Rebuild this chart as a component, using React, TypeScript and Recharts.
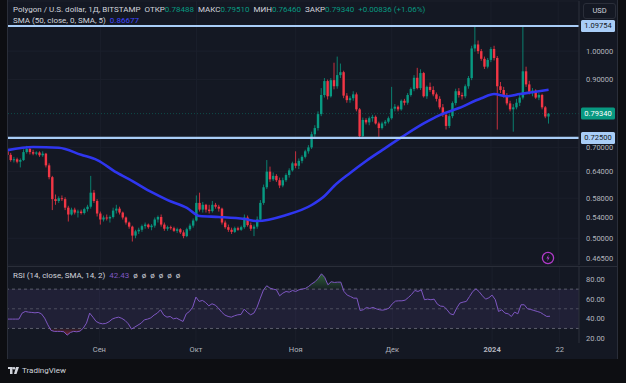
import React from "react";
import {
  Area,
  Bar,
  CartesianGrid,
  ComposedChart,
  Line,
  ReferenceArea,
  ReferenceLine,
  XAxis,
  YAxis,
} from "recharts";

// day 0 = 1 Sep 2023, first candle = 3 Aug 2023, last = 19 Jan 2024
const START_DAY = -29;
const END_DAY = 149; // empty room right of the last candle

const monthTicks = [0, 30, 61, 91, 122, 143];
const monthLabels = ["Сен", "Окт", "Ноя", "Дек", "2024", "22"];
const priceTicks = [0.465, 0.5, 0.54, 0.58, 0.64, 0.7, 0.9, 1.0];
const rsiTicks = [20, 40, 60, 80];

const open = [
  0.690, 0.681, 0.668, 0.670, 0.664, 0.668, 0.688, 0.696, 0.688, 0.684,
  0.687, 0.680, 0.684, 0.655, 0.627, 0.578, 0.574, 0.580, 0.578, 0.560,
  0.546, 0.556, 0.550, 0.552, 0.549, 0.557, 0.562, 0.592, 0.574, 0.548,
  0.536, 0.540, 0.538, 0.541, 0.554, 0.558, 0.550, 0.540, 0.530, 0.522,
  0.505, 0.513, 0.516, 0.523, 0.526, 0.521, 0.524, 0.536, 0.541, 0.526,
  0.518, 0.521, 0.519, 0.514, 0.517, 0.511, 0.504, 0.517, 0.524, 0.534,
  0.570, 0.556, 0.566, 0.556, 0.553, 0.566, 0.562, 0.558, 0.530, 0.521,
  0.516, 0.512, 0.519, 0.516, 0.521, 0.540, 0.525, 0.518, 0.522, 0.536,
  0.570, 0.604, 0.640, 0.622, 0.630, 0.620, 0.608, 0.620, 0.632, 0.643,
  0.660, 0.654, 0.666, 0.676, 0.690, 0.700, 0.735, 0.752, 0.792, 0.850,
  0.895, 0.846, 0.898, 0.878, 0.915, 0.925, 0.848, 0.834, 0.840, 0.852,
  0.806, 0.730, 0.775, 0.768, 0.780, 0.784, 0.765, 0.752, 0.765, 0.770,
  0.780, 0.808, 0.814, 0.806, 0.832, 0.826, 0.850, 0.869, 0.906, 0.872,
  0.922, 0.846, 0.876, 0.866, 0.852, 0.838, 0.812, 0.790, 0.758, 0.786,
  0.825, 0.862, 0.850, 0.846, 0.878, 0.905, 1.010, 1.025, 1.000, 0.972,
  0.944, 0.968, 1.008, 0.975, 0.878, 0.866, 0.850, 0.824, 0.806, 0.812,
  0.826, 0.842, 0.928, 0.884, 0.860, 0.864, 0.842, 0.850, 0.812, 0.78488,
];

const high = [
  0.695, 0.686, 0.676, 0.674, 0.672, 0.695, 0.704, 0.700, 0.694, 0.690,
  0.690, 0.690, 0.686, 0.660, 0.630, 0.588, 0.584, 0.586, 0.582, 0.564,
  0.560, 0.560, 0.556, 0.556, 0.560, 0.566, 0.630, 0.598, 0.578, 0.552,
  0.544, 0.546, 0.544, 0.560, 0.566, 0.562, 0.552, 0.542, 0.532, 0.524,
  0.516, 0.520, 0.526, 0.530, 0.528, 0.527, 0.540, 0.544, 0.546, 0.530,
  0.524, 0.524, 0.522, 0.520, 0.519, 0.515, 0.520, 0.528, 0.538, 0.586,
  0.592, 0.572, 0.568, 0.566, 0.574, 0.570, 0.566, 0.560, 0.534, 0.526,
  0.520, 0.522, 0.522, 0.524, 0.546, 0.544, 0.530, 0.526, 0.542, 0.576,
  0.610, 0.668, 0.652, 0.638, 0.634, 0.626, 0.626, 0.636, 0.648, 0.664,
  0.690, 0.672, 0.680, 0.694, 0.706, 0.742, 0.760, 0.800, 0.872, 0.905,
  0.900, 0.905, 0.958, 0.980, 0.955, 0.930, 0.856, 0.846, 0.862, 0.858,
  0.810, 0.782, 0.780, 0.785, 0.790, 0.788, 0.770, 0.770, 0.775, 0.785,
  0.876, 0.822, 0.818, 0.836, 0.838, 0.856, 0.874, 0.915, 0.940, 0.935,
  0.926, 0.880, 0.890, 0.878, 0.858, 0.846, 0.822, 0.796, 0.792, 0.830,
  0.870, 0.872, 0.858, 0.884, 0.912, 1.020, 1.0975, 1.040, 1.008, 0.980,
  0.975, 1.015, 1.020, 0.982, 0.892, 0.876, 0.856, 0.832, 0.822, 0.838,
  0.850, 1.0975, 0.944, 0.896, 0.872, 0.868, 0.856, 0.854, 0.816, 0.7951,
];

const low = [
  0.678, 0.664, 0.662, 0.660, 0.650, 0.666, 0.684, 0.682, 0.680, 0.680,
  0.676, 0.676, 0.650, 0.622, 0.555, 0.566, 0.570, 0.574, 0.555, 0.532,
  0.544, 0.546, 0.540, 0.546, 0.546, 0.552, 0.558, 0.570, 0.542, 0.526,
  0.532, 0.534, 0.530, 0.538, 0.548, 0.546, 0.536, 0.526, 0.518, 0.494,
  0.500, 0.508, 0.512, 0.518, 0.518, 0.515, 0.520, 0.530, 0.522, 0.514,
  0.514, 0.516, 0.512, 0.510, 0.508, 0.500, 0.502, 0.514, 0.520, 0.532,
  0.552, 0.550, 0.550, 0.548, 0.550, 0.558, 0.552, 0.526, 0.518, 0.512,
  0.508, 0.510, 0.514, 0.514, 0.518, 0.522, 0.514, 0.504, 0.518, 0.534,
  0.566, 0.600, 0.616, 0.618, 0.616, 0.602, 0.604, 0.616, 0.626, 0.640,
  0.648, 0.646, 0.660, 0.672, 0.684, 0.696, 0.728, 0.745, 0.786, 0.842,
  0.836, 0.842, 0.868, 0.870, 0.905, 0.840, 0.826, 0.826, 0.832, 0.800,
  0.722, 0.726, 0.762, 0.760, 0.770, 0.762, 0.728, 0.748, 0.758, 0.765,
  0.776, 0.800, 0.800, 0.802, 0.818, 0.820, 0.845, 0.862, 0.868, 0.866,
  0.842, 0.838, 0.860, 0.846, 0.830, 0.806, 0.784, 0.748, 0.752, 0.780,
  0.818, 0.842, 0.836, 0.840, 0.870, 0.898, 0.998, 0.990, 0.965, 0.936,
  0.938, 0.960, 0.966, 0.748, 0.856, 0.842, 0.818, 0.800, 0.742, 0.806,
  0.816, 0.836, 0.876, 0.852, 0.846, 0.838, 0.834, 0.806, 0.780, 0.7646,
];

const close = [
  0.681, 0.668, 0.670, 0.664, 0.668, 0.688, 0.696, 0.688, 0.684, 0.687,
  0.680, 0.684, 0.655, 0.627, 0.578, 0.574, 0.580, 0.578, 0.560, 0.546,
  0.556, 0.550, 0.552, 0.549, 0.557, 0.562, 0.592, 0.574, 0.548, 0.536,
  0.540, 0.538, 0.541, 0.554, 0.558, 0.550, 0.540, 0.530, 0.522, 0.505,
  0.513, 0.516, 0.523, 0.526, 0.521, 0.524, 0.536, 0.541, 0.526, 0.518,
  0.521, 0.519, 0.514, 0.517, 0.511, 0.504, 0.517, 0.524, 0.534, 0.570,
  0.556, 0.566, 0.556, 0.553, 0.566, 0.562, 0.558, 0.530, 0.521, 0.516,
  0.512, 0.519, 0.516, 0.521, 0.540, 0.525, 0.518, 0.522, 0.536, 0.570,
  0.604, 0.640, 0.622, 0.630, 0.620, 0.608, 0.620, 0.632, 0.643, 0.660,
  0.654, 0.666, 0.676, 0.690, 0.700, 0.735, 0.752, 0.792, 0.850, 0.895,
  0.846, 0.898, 0.878, 0.915, 0.925, 0.848, 0.834, 0.840, 0.852, 0.806,
  0.730, 0.775, 0.768, 0.780, 0.784, 0.765, 0.752, 0.765, 0.770, 0.780,
  0.808, 0.814, 0.806, 0.832, 0.826, 0.850, 0.869, 0.906, 0.872, 0.922,
  0.846, 0.876, 0.866, 0.852, 0.838, 0.812, 0.790, 0.758, 0.786, 0.825,
  0.862, 0.850, 0.846, 0.878, 0.905, 1.010, 1.025, 1.000, 0.972, 0.944,
  0.968, 1.008, 0.975, 0.878, 0.866, 0.850, 0.824, 0.806, 0.812, 0.826,
  0.842, 0.928, 0.884, 0.860, 0.864, 0.842, 0.850, 0.812, 0.78504, 0.7934,
];

const rsi = [
  39.5, 39.5, 39.5, 39.5, 39.5, 45.6, 47.3, 46.6, 46.3, 45.9,
  46.3, 44.9, 40.5, 33.7, 28.0, 27.0, 27.0, 27.0, 26.6, 23.2,
  25.9, 27.0, 26.6, 27.3, 30.3, 35.4, 45.6, 41.5, 37.1, 35.4,
  34.7, 35.1, 36.8, 39.5, 40.8, 41.5, 40.2, 38.1, 34.7, 29.3,
  31.4, 33.4, 35.4, 38.8, 39.5, 40.8, 43.6, 45.6, 49.0, 43.6,
  41.5, 42.2, 39.8, 40.5, 38.8, 37.1, 44.9, 47.3, 51.7, 61.9,
  57.5, 58.5, 56.4, 53.0, 55.1, 53.7, 50.7, 46.6, 43.6, 42.2,
  41.5, 42.9, 43.9, 44.2, 49.7, 46.3, 43.9, 45.6, 51.7, 60.8,
  69.3, 73.4, 71.0, 70.0, 69.3, 63.2, 65.9, 67.6, 66.9, 68.6,
  67.6, 69.3, 70.0, 70.7, 72.7, 75.4, 77.5, 81.0, 85.6, 82.0,
  74.4, 77.5, 76.8, 77.1, 77.1, 67.6, 63.9, 62.5, 60.8, 60.8,
  48.3, 49.0, 51.4, 50.3, 51.4, 50.0, 49.0, 48.6, 49.3, 50.7,
  55.1, 57.8, 58.1, 58.1, 58.8, 61.5, 64.6, 68.6, 67.6, 69.3,
  59.2, 59.8, 59.2, 59.8, 54.7, 52.7, 52.4, 49.0, 44.9, 43.9,
  50.7, 55.8, 56.8, 57.5, 62.5, 67.6, 70.3, 67.3, 63.2, 59.8,
  61.2, 63.9, 59.2, 47.3, 49.0, 45.6, 44.9, 42.2, 46.6, 44.9,
  54.1, 54.1, 50.0, 49.3, 48.3, 47.3, 46.3, 44.2, 42.2, 42.43,
];

// SMA(50) at these days
const smaDays = [-29, -21, -13, -6, -1, 5, 10, 16, 21, 27, 31, 37, 45, 49, 58, 66, 70, 73, 78, 83, 88, 94, 101, 106, 112, 119, 123, 127, 131, 135, 140];
const smaValues = [0.693, 0.701, 0.699, 0.681, 0.668, 0.638, 0.618, 0.593, 0.576, 0.5596, 0.543, 0.541, 0.537, 0.533, 0.545, 0.5656, 0.5848, 0.6068, 0.6368, 0.6657, 0.693, 0.7265, 0.765, 0.789, 0.81, 0.84, 0.853, 0.846, 0.853, 0.859, 0.8668];

const GREEN = "#089981";
const RED = "#f23645";
const BG = "#141823";
const TEXT = "#b2b5be";
const FONT = "Roboto, 'Noto Sans', sans-serif";

const rows: any[] = [];
for (let d = START_DAY; d <= END_DAY; d++) {
  const i = d - START_DAY;
  const row: any = { d };
  if (i < close.length) {
    row.o = open[i];
    row.h = high[i];
    row.l = low[i];
    row.c = close[i];
    row.range = [low[i], high[i]];
    row.rsi = rsi[i];
    row.ob = [70, Math.max(70, rsi[i])];
    row.os = [Math.min(30, rsi[i]), 30];
  }
  const s = smaDays.indexOf(d);
  if (s >= 0) row.sma = smaValues[s];
  rows.push(row);
}

function Candle(props: any) {
  const { x, y, width, height, payload } = props;
  if (!payload || payload.o == null) return null;
  const top = Math.min(y, y + height);
  const bottom = Math.max(y, y + height);
  const { o, h, l, c } = payload;
  const span = Math.log(h) - Math.log(l);
  const py = (v: number) =>
    span > 0 ? top + ((bottom - top) * (Math.log(h) - Math.log(v))) / span : top;
  const color = c >= o ? GREEN : RED;
  const cx = x + width / 2;
  const yo = py(o);
  const yc = py(c);
  const bodyTop = Math.min(yo, yc);
  const bodyH = Math.max(1, Math.abs(yc - yo));
  return (
    <g>
      <line x1={cx} x2={cx} y1={top} y2={bottom} stroke={color} strokeWidth={0.8} />
      <rect x={cx - 1.2} y={bodyTop} width={2.4} height={bodyH} fill={color} />
    </g>
  );
}

function AxisBadge({ viewBox, text, fill, color }: any) {
  if (!viewBox) return null;
  const bx = viewBox.x + viewBox.width + 2;
  return (
    <g>
      <rect x={bx} y={viewBox.y - 6} width={34} height={12} rx={1.5} fill={fill} />
      <text
        x={bx + 17}
        y={viewBox.y + 0.5}
        textAnchor="middle"
        dominantBaseline="middle"
        fontSize={7.5}
        fontFamily={FONT}
        fill={color}
      >
        {text}
      </text>
    </g>
  );
}

function TimeTick({ x, y, payload }: any) {
  const idx = monthTicks.indexOf(payload.value);
  const label = monthLabels[idx];
  return (
    <text
      x={x}
      y={y}
      dy="0.71em"
      textAnchor="middle"
      fontSize={7.5}
      fontFamily={FONT}
      fontWeight={label === "2024" ? 700 : 400}
      fill={TEXT}
    >
      {label}
    </text>
  );
}

export default function App() {
  return (
    <div
      style={{
        position: "fixed",
        left: 0,
        top: 0,
        width: 626,
        height: 383,
        background: "#0d0e12",
        fontFamily: FONT,
        overflow: "hidden",
      }}
    >
      <div
        style={{
          position: "absolute",
          left: 0,
          top: 0,
          width: 617,
          height: 359,
          background: BG,
          borderRight: "1px solid #2a2e39",
        }}
      />
      <div
        style={{
          position: "absolute",
          left: 0,
          top: 0,
          width: 7,
          height: 359,
          background: "#0d0e12",
          borderRight: "1px solid #2a2e39",
          zIndex: 3,
        }}
      />

      <div style={{ position: "absolute", left: 0, top: 0 }}>
        <ComposedChart
          width={617}
          height={266}
          data={rows}
          margin={{ top: 1, right: 0, bottom: 1, left: 6 }}
        >
          <CartesianGrid stroke="#1b1f2b" />
          <XAxis dataKey="d" hide ticks={monthTicks} interval={0} />
          <YAxis
            orientation="right"
            scale="log"
            domain={[0.45288, 1.204]}
            allowDataOverflow
            ticks={priceTicks}
            width={38}
            tickSize={5}
            tickMargin={2}
            tickLine={false}
            axisLine={{ stroke: "#2a2e39" }}
            tick={{ fill: TEXT, fontSize: 7.5, fontFamily: FONT }}
            tickFormatter={(v: number) => v.toFixed(5)}
          />
          <ReferenceLine
            y={0.7934}
            stroke={GREEN}
            strokeDasharray="1 2"
            strokeOpacity={0.4}
            label={(p: any) => (
              <AxisBadge viewBox={p.viewBox} text="0.79340" fill={GREEN} color="#ffffff" />
            )}
          />
          <Bar
            dataKey="range"
            barSize={3}
            shape={<Candle />}
            isAnimationActive={false}
          />
          <Line
            dataKey="sma"
            type="monotone"
            stroke="#2f36f0"
            strokeWidth={2.6}
            dot={false}
            connectNulls
            isAnimationActive={false}
          />
          <ReferenceLine
            y={1.09754}
            stroke="#a9cdf7"
            strokeWidth={2.2}
            label={(p: any) => (
              <AxisBadge viewBox={p.viewBox} text="1.09754" fill="#a9cdf7" color="#131722" />
            )}
          />
          <ReferenceLine
            y={0.725}
            stroke="#a9cdf7"
            strokeWidth={2.2}
            label={(p: any) => (
              <AxisBadge viewBox={p.viewBox} text="0.72500" fill="#a9cdf7" color="#131722" />
            )}
          />
        </ComposedChart>
      </div>

      <div
        style={{
          position: "absolute",
          left: 7,
          top: 266,
          width: 610,
          height: 1,
          background: "#2a2e39",
        }}
      />

      <div style={{ position: "absolute", left: 0, top: 266 }}>
        <ComposedChart
          width={617}
          height={93}
          data={rows}
          margin={{ top: 1, right: 0, bottom: 0, left: 6 }}
        >
          <defs>
            <linearGradient id="obFill" x1="0" y1="0" x2="0" y2="1">
              <stop offset="0%" stopColor="#4caf50" stopOpacity={0.8} />
              <stop offset="100%" stopColor="#4caf50" stopOpacity={0.1} />
            </linearGradient>
            <linearGradient id="osFill" x1="0" y1="0" x2="0" y2="1">
              <stop offset="0%" stopColor="#f23645" stopOpacity={0.1} />
              <stop offset="100%" stopColor="#f23645" stopOpacity={0.8} />
            </linearGradient>
          </defs>
          <CartesianGrid stroke="#1b1f2b" horizontal={false} />
          <ReferenceArea y1={30} y2={70} fill="#7e57c2" fillOpacity={0.12} stroke="none" />
          <XAxis
            dataKey="d"
            ticks={monthTicks}
            interval={0}
            height={16}
            tickSize={3}
            tickMargin={1}
            axisLine={false}
            tickLine={false}
            tick={<TimeTick />}
          />
          <YAxis
            orientation="right"
            domain={[15.2, 92.5]}
            allowDataOverflow
            ticks={rsiTicks}
            width={38}
            tickSize={5}
            tickMargin={2}
            tickLine={false}
            axisLine={{ stroke: "#2a2e39" }}
            tick={{ fill: TEXT, fontSize: 7.5, fontFamily: FONT }}
            tickFormatter={(v: number) => v.toFixed(2)}
          />
          <ReferenceLine y={70} stroke="#787b86" strokeDasharray="3 3" strokeOpacity={0.7} />
          <ReferenceLine y={50} stroke="#787b86" strokeDasharray="3 3" strokeOpacity={0.5} />
          <ReferenceLine y={30} stroke="#787b86" strokeDasharray="3 3" strokeOpacity={0.7} />
          <Area
            dataKey="ob"
            type="linear"
            stroke="none"
            fill="url(#obFill)"
            isAnimationActive={false}
          />
          <Area
            dataKey="os"
            type="linear"
            stroke="none"
            fill="url(#osFill)"
            isAnimationActive={false}
          />
          <Line
            dataKey="rsi"
            type="linear"
            stroke="#7e57c2"
            strokeWidth={1}
            dot={false}
            isAnimationActive={false}
          />
        </ComposedChart>
      </div>

      {/* legend lines */}
      <div
        style={{
          position: "absolute",
          left: 13,
          top: 4,
          fontSize: 8,
          color: "#d1d4dc",
          whiteSpace: "nowrap",
          lineHeight: "11px",
          zIndex: 4,
        }}
      >
        <div>
          Polygon / U.S. dollar, 1Д, BITSTAMP&nbsp;&nbsp;ОТКР<span style={{ color: GREEN }}>0.78488</span>
          &nbsp;&nbsp;МАКС<span style={{ color: GREEN }}>0.79510</span>&nbsp;&nbsp;МИН
          <span style={{ color: GREEN }}>0.76460</span>&nbsp;&nbsp;ЗАКР
          <span style={{ color: GREEN }}>0.79340</span>&nbsp;&nbsp;
          <span style={{ color: GREEN }}>+0.00836 (+1.06%)</span>
        </div>
        <div>
          SMA (50, close, 0, SMA, 5)&nbsp;&nbsp;<span style={{ color: "#3f46ff" }}>0.86677</span>
        </div>
      </div>
      <div
        style={{
          position: "absolute",
          left: 13,
          top: 270,
          fontSize: 8,
          color: "#d1d4dc",
          whiteSpace: "nowrap",
          lineHeight: "11px",
        }}
      >
        RSI (14, close, SMA, 14, 2)&nbsp;&nbsp;<span style={{ color: "#7e57c2" }}>42.43</span>
        &nbsp;&nbsp;ø&nbsp;&nbsp;ø&nbsp;&nbsp;ø&nbsp;&nbsp;ø&nbsp;&nbsp;ø&nbsp;&nbsp;ø
      </div>

      <div
        style={{
          position: "absolute",
          left: 583,
          top: 3,
          width: 31,
          height: 14,
          border: "1px solid #2a2e39",
          borderRadius: 3,
          color: "#d1d4dc",
          fontSize: 7.5,
          lineHeight: "14px",
          textAlign: "center",
        }}
      >
        USD
      </div>

      <svg style={{ position: "absolute", left: 541, top: 251 }} width={14} height={14}>
        <circle cx={7} cy={7} r={5.6} fill="none" stroke="#b03ac8" strokeWidth={1.3} />
        <path d="M7.8 3.6 L5.4 7.4 L7 7.4 L6.2 10.4 L8.6 6.6 L7 6.6 Z" fill="#b03ac8" />
      </svg>

      <div
        style={{
          position: "absolute",
          left: 8,
          top: 366,
          display: "flex",
          alignItems: "center",
          gap: 3,
          color: "#d1d4dc",
          fontSize: 8,
        }}
      >
        <svg width={11} height={7}>
          <rect x={0} y={0} width={4.5} height={2} fill="#d1d4dc" />
          <rect x={2} y={0} width={2.5} height={7} fill="#d1d4dc" />
          <circle cx={6} cy={1.3} r={1.3} fill="#d1d4dc" />
          <path d="M8 0 L11 0 L8.5 7 L6 7 Z" fill="#d1d4dc" />
        </svg>
        <span>TradingView</span>
      </div>
    </div>
  );
}
